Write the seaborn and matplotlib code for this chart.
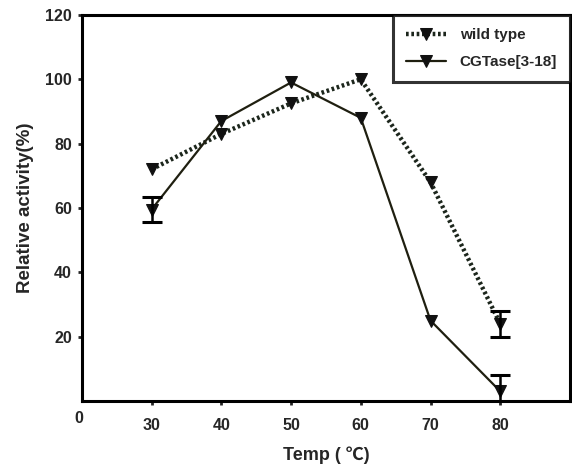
import pandas as pd
import matplotlib
matplotlib.use("Agg")
import matplotlib.pyplot as plt
import seaborn as sns

# data
temps = [30, 40, 50, 60, 70, 80]
wild_type = [72, 83, 92.5, 100, 68, 24]
cgtase = [59.5, 87, 99, 88, 25, 3]
# only a few points carry error bars
wt_err_x = [80]
wt_err = [4]
wt_err_y = [24]
cg_err_x = [30, 80]
cg_err_y = [59.5, 3]
cg_err = [4, 5]

sns.set_style("white")
plt.rcParams['font.family'] = ['Liberation Sans', 'Noto Sans CJK SC', 'DejaVu Sans']
plt.rcParams['font.weight'] = 'bold'

df = pd.DataFrame({'temp': temps, 'wild type': wild_type, 'CGTase[3-18]': cgtase})

fig = plt.figure(figsize=(5.72, 4.66), dpi=100)
ax = fig.add_axes([0.143, 0.1395, 0.8535, 0.8285])

sns.lineplot(data=df, x='temp', y='wild type', ax=ax, color='#1c261c',
             linestyle=(0, (0.6, 0.6)), linewidth=3.2, marker='v', markersize=8,
             markeredgecolor='#111', markerfacecolor='#111', label='wild type')
sns.lineplot(data=df, x='temp', y='CGTase[3-18]', ax=ax, color='#1f1f10',
             linewidth=1.6, marker='v', markersize=8,
             markeredgecolor='#111', markerfacecolor='#111', label='CGTase[3-18]')

ax.errorbar(wt_err_x, wt_err_y, yerr=wt_err, fmt='none', ecolor='black',
            elinewidth=1.8, capsize=7.5, capthick=2.2)
ax.errorbar(cg_err_x, cg_err_y, yerr=cg_err, fmt='none', ecolor='black',
            elinewidth=1.8, capsize=7.5, capthick=2.2)

ax.set_xlim(20, 90)
ax.set_ylim(0, 120)
ax.set_xticks([30, 40, 50, 60, 70, 80])
ax.set_xticklabels(['30', '40', '50', '60', '70', '80'])
ax.set_yticks([20, 40, 60, 80, 100, 120])
ax.text(19.6, -3.0, '0', ha='center', va='top', fontsize=11.5, fontweight='bold')
ax.tick_params(axis='both', direction='out', length=3, width=2, labelsize=11.5,
               bottom=True, left=True)
ax.tick_params(axis='x', pad=9)
ax.tick_params(axis='y', pad=4)
for lab in ax.get_xticklabels() + ax.get_yticklabels():
    lab.set_fontweight('bold')
for sp in ax.spines.values():
    sp.set_linewidth(2.2)
    sp.set_color('black')

ax.set_xlabel('Temp ( \u2103)', fontsize=13, fontweight='bold', labelpad=10)
ax.set_ylabel('Relative activity(%)', fontsize=13.5, fontweight='bold', labelpad=8)

leg = ax.legend(loc='upper right', frameon=True, fancybox=False, borderaxespad=0.0,
                fontsize=11, handlelength=2.6, handletextpad=0.9, borderpad=0.85,
                labelspacing=0.85)
leg.get_frame().set_edgecolor('black')
leg.get_frame().set_linewidth(2.2)
for t in leg.get_texts():
    t.set_fontweight('bold')

fig.savefig('out.png', dpi=100)
